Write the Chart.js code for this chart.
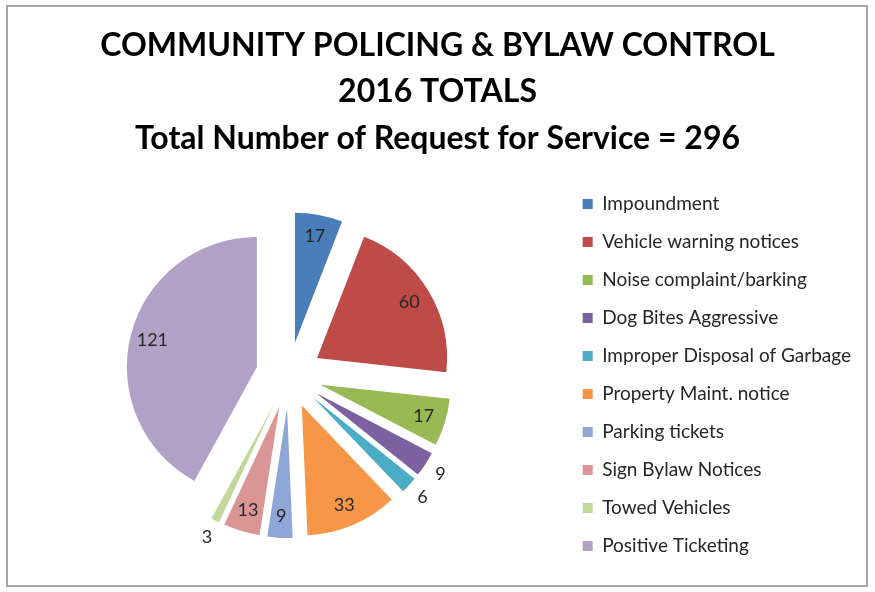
<!DOCTYPE html>
<html>
<head>
<meta charset="utf-8">
<script src="https://cdn.jsdelivr.net/npm/chart.js@4/dist/chart.umd.min.js"></script>
<style>
  html, body { margin: 0; padding: 0; background: #fff; }
  #wrap { position: relative; width: 875px; height: 592px; }
  #frame { position: absolute; left: 6px; top: 5px; width: 862px; height: 582px; border: 2px solid #a6a6a6; box-sizing: border-box; }
  #wrap canvas { position: absolute; left: 0; top: 0; }
</style>
</head>
<body>
<div id="wrap">
  <div id="frame"></div>
  <canvas id="pieChart" width="875" height="592"></canvas>
</div>
<script>
var categories = ['Impoundment', 'Vehicle warning notices', 'Noise complaint/barking', 'Dog Bites Aggressive',
  'Improper Disposal of Garbage', 'Property Maint. notice', 'Parking tickets', 'Sign Bylaw Notices',
  'Towed Vehicles', 'Positive Ticketing'];
var requests = [17, 60, 17, 9, 6, 33, 9, 13, 3, 121];
var titleLines = ['COMMUNITY POLICING & BYLAW CONTROL', '2016 TOTALS', 'Total Number of Request for Service = 296'];

var colors = ['#4a7ebb', '#be4b48', '#98b954', '#7d60a0', '#4bacc6', '#f79646', '#8ea7d6', '#d99694', '#c3d69b', '#b2a1c7'];
// slices whose value sits outside the wedge
var outsideLabels = [3, 4, 8];

var explode = 33; // px every wedge is pulled out from the centre

// pull each wedge out along its bisector by the same distance
// (the built-in offset option also grows thin wedges, so move the arc centres instead)
var explodePie = {
  id: 'explodePie',
  beforeDatasetsDraw(chart) {
    var area = chart.chartArea;
    var cx = (area.left + area.right) / 2;
    var cy = (area.top + area.bottom) / 2;
    chart.getDatasetMeta(0).data.forEach(arc => {
      var mid = (arc.startAngle + arc.endAngle) / 2;
      arc.x = cx + Math.cos(mid) * explode;
      arc.y = cy + Math.sin(mid) * explode;
    });
  }
};

var sliceLabels = {
  id: 'sliceLabels',
  afterDatasetsDraw(chart) {
    var ctx = chart.ctx;
    var meta = chart.getDatasetMeta(0);
    ctx.save();
    ctx.font = '18px Lato, "Open Sans", sans-serif';
    ctx.fillStyle = '#262626';
    ctx.textAlign = 'center';
    ctx.textBaseline = 'middle';
    meta.data.forEach((arc, i) => {
      var mid = (arc.startAngle + arc.endAngle) / 2;
      var r = arc.outerRadius * (outsideLabels.includes(i) ? 1.14 : 0.83);
      ctx.fillText(String(requests[i]), arc.x + Math.cos(mid) * r, arc.y + Math.sin(mid) * r);
    });
    ctx.restore();
  }
};

new Chart(document.getElementById('pieChart').getContext('2d'), {
  type: 'pie',
  data: {
    labels: categories,
    datasets: [{
      data: requests,
      backgroundColor: colors,
      borderWidth: 0,
      hoverOffset: 0
    }]
  },
  options: {
    responsive: false,
    animation: false,
    radius: 130,
    layout: { padding: { left: 14, right: 14, top: 13, bottom: 13 } },
    plugins: {
      title: {
        display: true,
        text: titleLines,
        color: '#000',
        font: { family: 'Lato, "Open Sans", sans-serif', size: 32, weight: 'bold', lineHeight: 1.44 },
        padding: { top: 10, bottom: 10 }
      },
      legend: {
        position: 'right',
        fullSize: false,
        labels: {
          boxWidth: 10,
          boxHeight: 10,
          padding: 19,
          color: '#262626',
          font: { family: 'Lato, "Open Sans", sans-serif', size: 19 }
        }
      },
      tooltip: { enabled: false }
    }
  },
  plugins: [explodePie, sliceLabels]
});
</script>
</body>
</html>
